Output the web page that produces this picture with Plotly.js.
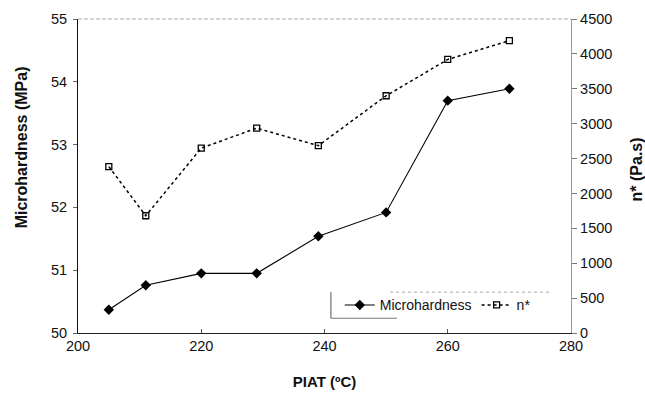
<!DOCTYPE html>
<html>
<head>
<meta charset="utf-8">
<script src="https://cdn.plot.ly/plotly-3.0.1.min.js"></script>
<style>html,body{margin:0;padding:0;background:#fff;}#chart{width:645px;height:398px;}</style>
</head>
<body>
<div id="chart"></div>
<script>
// Data
const piat = [205, 211, 220, 229, 239, 250, 260, 270];
const microhardness = [50.37, 50.76, 50.95, 50.95, 51.54, 51.92, 53.70, 53.89];
const viscosity = [2385, 1680, 2650, 2935, 2685, 3400, 3920, 4190];
const yTitleLeft = 'Microhardness (MPa)';
const yTitleRight = 'n* (Pa.s)';
const xTitle = 'PIAT (ºC)';

const FONT = 'Arial, "Liberation Sans", sans-serif';

const traces = [
  {
    x: piat, y: microhardness, name: 'Microhardness', type: 'scatter', mode: 'lines+markers',
    line: {color: '#000', width: 1.1},
    marker: {symbol: 'diamond', size: 8, color: '#000'},
    yaxis: 'y'
  },
  {
    x: piat, y: viscosity, name: 'n*', type: 'scatter', mode: 'lines+markers',
    line: {color: '#000', width: 1.5, dash: 'dot'},
    marker: {symbol: 'square-open', size: 6, color: '#000', line: {width: 1.3}},
    yaxis: 'y2'
  }
];

const layout = {
  width: 645, height: 398,
  margin: {l: 77.5, r: 73.5, t: 19, b: 65, pad: 0},
  paper_bgcolor: '#fff', plot_bgcolor: '#fff',
  font: {family: FONT, size: 14.5, color: '#111'},
  showlegend: true,
  legend: {
    orientation: 'h', x: 0.531, xanchor: 'left', y: 0.088, yanchor: 'middle',
    bgcolor: 'rgba(0,0,0,0)', borderwidth: 0,
    font: {family: FONT, size: 14, color: '#111'},
    itemwidth: 30, tracegroupgap: 0
  },
  xaxis: {
    range: [200, 280], tickvals: [200, 220, 240, 260, 280],
    showgrid: false, zeroline: false,
    showline: true, linecolor: '#222', linewidth: 1,
    ticks: 'inside', ticklen: 4, tickcolor: '#555',
    title: {text: '<b>' + xTitle + '</b>', font: {family: FONT, size: 15, color: '#111'}, standoff: 23},
    tickfont: {family: FONT, size: 14.5, color: '#111'}
  },
  yaxis: {
    range: [50, 55], dtick: 1,
    showgrid: false, zeroline: false,
    showline: true, linecolor: '#111', linewidth: 1,
    ticks: 'outside', ticklen: 4, tickcolor: '#666', ticklabelstandoff: 3,
    tickfont: {family: FONT, size: 14.5, color: '#111'}
  },
  yaxis2: {
    range: [0, 4500], dtick: 500, overlaying: 'y', side: 'right',
    showgrid: false, zeroline: false,
    showline: true, linecolor: '#999', linewidth: 1.2,
    ticks: 'outside', ticklen: 5, tickcolor: '#777',
    tickfont: {family: FONT, size: 14.5, color: '#111'}
  },
  annotations: [
    {text: '<b>' + yTitleLeft + '</b>', xref: 'paper', yref: 'paper', x: -0.1144, y: 0.59,
     xanchor: 'center', yanchor: 'middle', textangle: -90, showarrow: false,
     font: {family: FONT, size: 16, color: '#111'}},
    {text: '<b>' + yTitleRight + '</b>', xref: 'paper', yref: 'paper', x: 1.1326, y: 0.522,
     xanchor: 'center', yanchor: 'middle', textangle: -90, showarrow: false,
     font: {family: FONT, size: 16, color: '#111'}}
  ],
  shapes: [
    {type: 'line', xref: 'paper', yref: 'paper', x0: 0, x1: 1, y0: 1, y1: 1,
     line: {color: '#aaa', width: 1, dash: '4px,2px'}},
    {type: 'line', xref: 'paper', yref: 'paper', x0: 0.513, x1: 0.513, y0: 0.047, y1: 0.13,
     line: {color: '#555', width: 1}},
    {type: 'line', xref: 'paper', yref: 'paper', x0: 0.513, x1: 0.647, y0: 0.047, y1: 0.047,
     line: {color: '#777', width: 1}},
    {type: 'line', xref: 'paper', yref: 'paper', x0: 0.633, x1: 0.957, y0: 0.13, y1: 0.13,
     line: {color: '#aaa', width: 1, dash: 'dot'}}
  ]
};

Plotly.newPlot('chart', traces, layout, {staticPlot: true, displayModeBar: false});
</script>
</body>
</html>
